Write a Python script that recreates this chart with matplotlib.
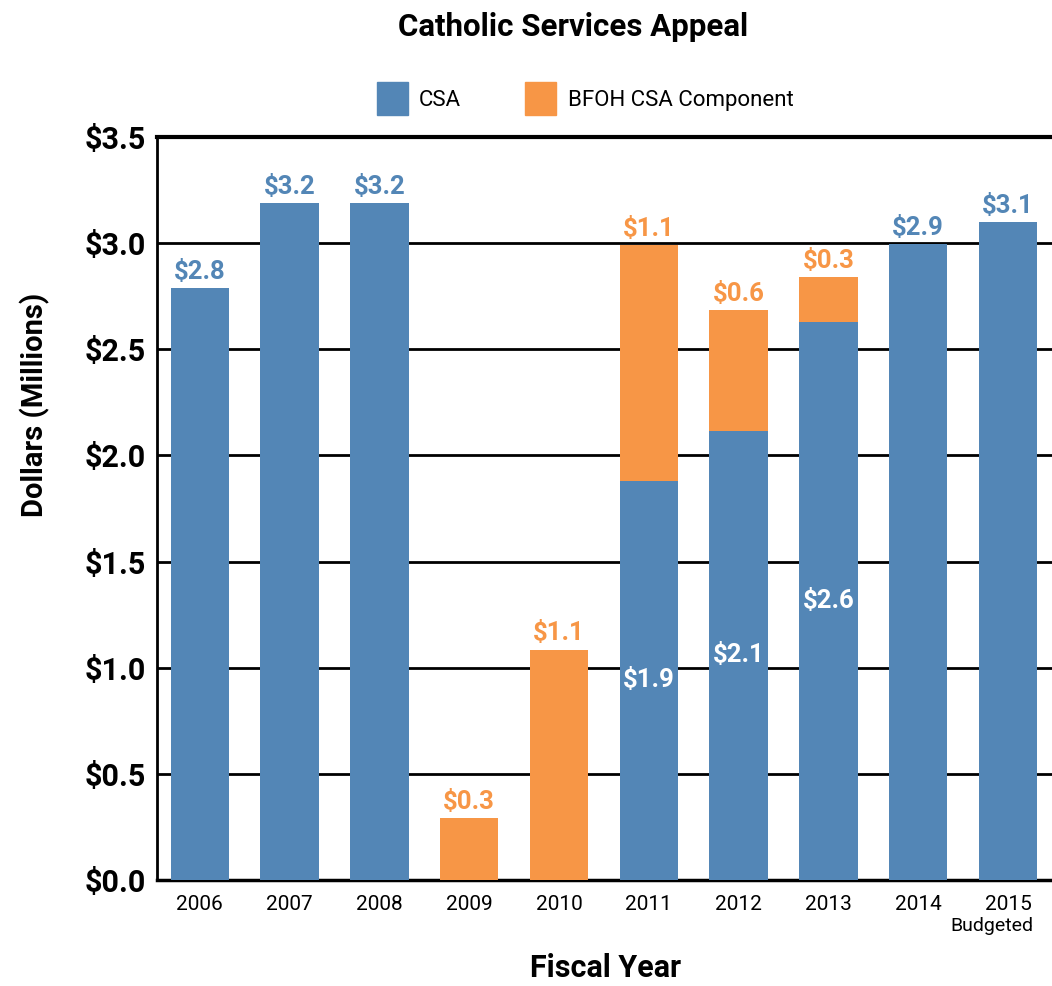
import matplotlib
matplotlib.use("Agg")
import matplotlib.pyplot as plt
from matplotlib.patches import Patch
import numpy as np

years = ["2006", "2007", "2008", "2009", "2010", "2011", "2012", "2013", "2014", "2015"]
csa = [2.79, 3.19, 3.19, 0.0, 0.0, 1.88, 2.115, 2.63, 2.995, 3.10]
bfoh = [0.0, 0.0, 0.0, 0.29, 1.085, 1.11, 0.57, 0.21, 0.0, 0.0]
top_labels = ["$2.8", "$3.2", "$3.2", "$0.3", "$1.1", "$1.1", "$0.6", "$0.3", "$2.9", "$3.1"]
inner_labels = ["", "", "", "", "", "$1.9", "$2.1", "$2.6", "", ""]
yticks = [0.0, 0.5, 1.0, 1.5, 2.0, 2.5, 3.0, 3.5]
ytick_labels = ["$0.0", "$0.5", "$1.0", "$1.5", "$2.0", "$2.5", "$3.0", "$3.5"]

BLUE = "#5386B6"
ORANGE = "#F79646"
FONT = "Roboto"

fig = plt.figure(figsize=(10.52, 9.86), dpi=100)
ax = fig.add_axes([0.149, 0.1075, 0.851, 0.7536])

x = np.arange(len(years))
w = 0.65
csa_a = np.array(csa)
bfoh_a = np.array(bfoh)
ax.bar(x, csa_a, width=w, color=BLUE, zorder=3)
ax.bar(x, bfoh_a, width=w, bottom=csa_a, color=ORANGE, zorder=3)

for i in range(len(years)):
    total = csa_a[i] + bfoh_a[i]
    col = ORANGE if bfoh_a[i] > 0 else BLUE
    ax.annotate(top_labels[i], (x[i], total), xytext=(0, 3), textcoords="offset points",
                ha="center", va="bottom", color=col, fontsize=18.5, fontweight="bold", family=FONT)
    if inner_labels[i]:
        ax.text(x[i], csa_a[i] / 2, inner_labels[i], ha="center", va="center", color="white",
                fontsize=18.5, fontweight="bold", family=FONT)

ax.set_xlim(-0.48, 9.49)
ax.set_ylim(0, 3.5)
ax.set_yticks(yticks)
ax.set_yticklabels(ytick_labels, fontsize=22, fontweight="bold", family=FONT)
ax.set_xticks(x)
ax.set_xticklabels(years, fontsize=15, family=FONT)
ax.tick_params(axis="both", length=0)
ax.tick_params(axis="x", pad=10.5)
ax.tick_params(axis="y", pad=8)
ax.yaxis.grid(True, color="black", linewidth=2, zorder=1)
ax.set_axisbelow(True)
ax.spines["right"].set_visible(False)
ax.spines["top"].set_linewidth(3)
ax.spines["left"].set_linewidth(2)
ax.spines["bottom"].set_linewidth(2.5)

fig.text(0.982, 0.0609, "Budgeted", ha="right", va="center", fontsize=14, family=FONT)
fig.text(0.576, 0.0183, "Fiscal Year", ha="center", va="center", fontsize=22,
         fontweight="bold", family=FONT)
fig.text(0.0333, 0.589, "Dollars (Millions)", ha="center", va="center", rotation=90,
         fontsize=21, fontweight="bold", family=FONT)

fig.text(0.5452, 0.973, "Catholic Services Appeal", ha="center", va="center",
         fontsize=22.5, fontweight="bold", family=FONT)

handles = [Patch(color=BLUE, label="CSA"), Patch(color=ORANGE, label="BFOH CSA Component")]
fig.legend(handles=handles, loc="center", bbox_to_anchor=(0.556, 0.9), ncol=2, frameon=False,
           prop={"family": FONT, "size": 16}, handlelength=1.4, handleheight=1.9,
           columnspacing=2.9, handletextpad=0.5)

fig.savefig("out.png", dpi=100)
